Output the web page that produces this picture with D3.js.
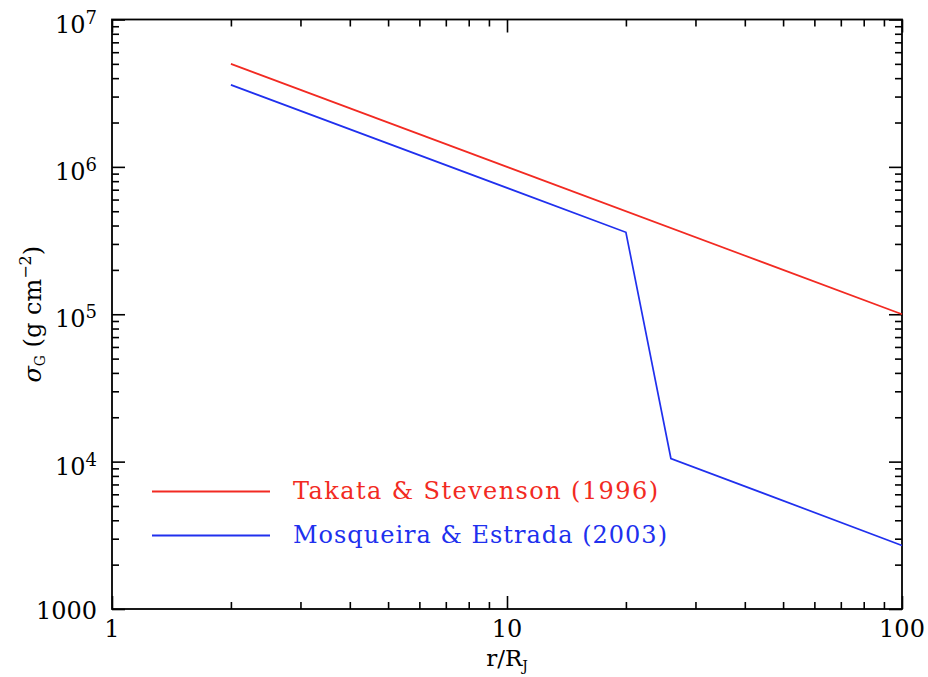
<!DOCTYPE html>
<html>
<head>
<meta charset="utf-8">
<script src="https://cdn.jsdelivr.net/npm/d3@7"></script>
<style>
  body { margin: 0; background: #fff; }
  text { font-family: "DejaVu Serif", serif; }
</style>
</head>
<body>
<svg id="chart" width="928" height="677"></svg>
<script>

// DATA

var takataR = [2, 100];
var takataSigma = [5e6, 1e5];

var mosqR = [2, 20, 26, 100];
var mosqSigma = [3.6e6, 3.6e5, 1.05e4, 2.7e3];

var seriesNames = ["Takata & Stevenson (1996)", "Mosqueira & Estrada (2003)"];
var seriesColors = ["#f22a22", "#2030ee"];

var xMajor = [1, 10, 100];
var yMajor = [1e3, 1e4, 1e5, 1e6, 1e7];


var svg = d3.select("#chart"),
    margin = {top: 19.5, right: 26, bottom: 68, left: 112},
    width = 928 - margin.left - margin.right,
    height = 677 - margin.top - margin.bottom;

var x = d3.scaleLog().domain([1, 100]).range([0, width]);
var y = d3.scaleLog().domain([1e3, 1e7]).range([height, 0]);

// minor ticks: 2..9 within each decade
function minors(lo, hi) {
    var out = [];
    for (let p = lo; p < hi; p++) {
        for (let k = 2; k < 10; k++) out.push(k * Math.pow(10, p));
    }
    return out;
}
var xMinor = minors(0, 2);
var yMinor = minors(3, 7);

var g = svg.append("g")
    .attr("transform", "translate(" + margin.left + "," + margin.top + ")");

function tickAxis(axisFn, scale, vals, size, tr) {
    var a = g.append("g")
        .attr("transform", tr || null)
        .call(axisFn(scale).tickValues(vals).tickSize(size).tickFormat(""));
    a.select(".domain").remove();
    a.selectAll("line").attr("stroke", "#000").attr("stroke-width", 1.6);
}

// ticks on all four sides, pointing inward
tickAxis(d3.axisBottom, x, xMinor, -7, "translate(0," + height + ")");
tickAxis(d3.axisBottom, x, xMajor, -13, "translate(0," + height + ")");
tickAxis(d3.axisTop, x, xMinor, -7);
tickAxis(d3.axisTop, x, xMajor, -13);
tickAxis(d3.axisLeft, y, yMinor, -7);
tickAxis(d3.axisLeft, y, yMajor, -13);
tickAxis(d3.axisRight, y, yMinor, -7, "translate(" + width + ",0)");
tickAxis(d3.axisRight, y, yMajor, -13, "translate(" + width + ",0)");

g.append("rect")
    .attr("width", width)
    .attr("height", height)
    .attr("fill", "none")
    .attr("stroke", "#000")
    .attr("stroke-width", 1.8);

// tick labels
g.selectAll(".xlab")
    .data(xMajor)
    .enter().append("text")
    .attr("class", "xlab")
    .attr("x", function (d) { return x(d); })
    .attr("y", height + 28)
    .attr("text-anchor", "middle")
    .attr("font-size", 24)
    .text(function (d) { return d; });

var ylab = g.selectAll(".ylab")
    .data(yMajor)
    .enter().append("text")
    .attr("class", "ylab")
    .attr("x", -15)
    .attr("y", function (d) { return y(d) + (d === 1000 ? 10 : 13); })
    .attr("text-anchor", "end")
    .attr("font-size", 24);

ylab.each(function (d) {
    var t = d3.select(this);
    var p = Math.round(Math.log10(d));
    if (d === 1000) {
        t.text("1000");
    } else {
        t.append("tspan").text("10");
        t.append("tspan").attr("dy", -9).attr("font-size", 18).text(p);
    }
});

// axis titles
var xt = g.append("text")
    .attr("x", width / 2)
    .attr("y", height + 57)
    .attr("text-anchor", "middle")
    .attr("font-size", 23);
xt.append("tspan").text("r/R");
xt.append("tspan").attr("dy", 5).attr("font-size", 14).text("J");

var yt = svg.append("text")
    .attr("transform", "translate(41," + (margin.top + height / 2) + ") rotate(-90)")
    .attr("text-anchor", "middle")
    .attr("font-size", 24);
yt.append("tspan").attr("font-style", "italic").text("σ");
yt.append("tspan").attr("dy", 4).attr("font-size", 14).text("G");
yt.append("tspan").attr("dy", -4).text(" (g cm");
yt.append("tspan").attr("dy", -10).attr("font-size", 16).text("−2");
yt.append("tspan").attr("dy", 10).text(")");

// lines
var line = d3.line()
    .x(function (d) { return x(d[0]); })
    .y(function (d) { return y(d[1]); });

var series = [
    d3.zip(takataR, takataSigma),
    d3.zip(mosqR, mosqSigma)
];

g.selectAll(".series")
    .data(series)
    .enter().append("path")
    .attr("class", "series")
    .attr("fill", "none")
    .attr("stroke", function (d, i) { return seriesColors[i]; })
    .attr("stroke-width", 1.7)
    .attr("d", line);

// legend
var legend = svg.append("g").attr("transform", "translate(152,491.5)");
seriesNames.forEach(function (name, i) {
    var row = legend.append("g").attr("transform", "translate(0," + (i * 44) + ")");
    row.append("line")
        .attr("x1", 0).attr("x2", 118)
        .attr("stroke", seriesColors[i])
        .attr("stroke-width", 1.8);
    row.append("text")
        .attr("x", 141)
        .attr("y", 7)
        .attr("font-size", 24)
        .attr("fill", seriesColors[i])
        .attr("textLength", i === 0 ? 365 : 374)
        .attr("lengthAdjust", "spacing")
        .text(name);
});

</script>
</body>
</html>
